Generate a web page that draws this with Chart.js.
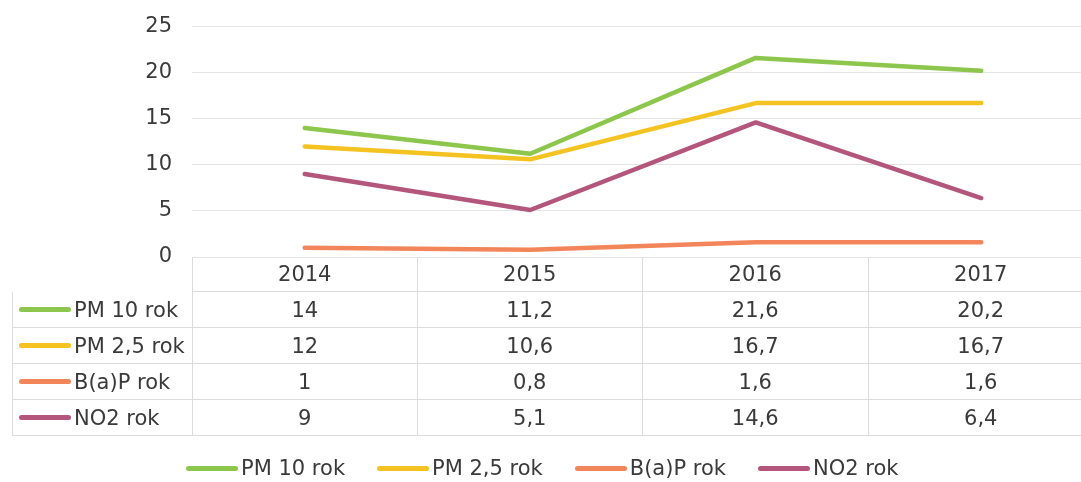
<!DOCTYPE html>
<html>
<head>
<meta charset="utf-8">
<script src="https://cdn.jsdelivr.net/npm/chart.js@4.4.0/dist/chart.umd.min.js"></script>
<style>
  html, body { margin: 0; padding: 0; background: #fff; overflow: hidden; }
  body { width: 1081px; height: 482px; position: relative; font-family: "DejaVu Sans", sans-serif; color: #3a3a3a; }
  #plot { position: absolute; left: 0; top: -6px; }
  .cell { position: absolute; box-sizing: border-box; font-size: 21px; display: flex; align-items: center; justify-content: center; border-color: #dcdcdc; border-style: solid; border-width: 0; }
  .cell.label { justify-content: flex-start; padding-left: 6px; }
  .sw { width: 52px; height: 5px; border-radius: 3px; margin-right: 3px; flex: none; }
  #legend { position: absolute; left: 186px; top: 456px; display: flex; align-items: center; font-size: 21px; white-space: nowrap; }
  #legend .item { display: flex; align-items: center; margin-right: 32px; }
</style>
</head>
<body>
<canvas id="plot" width="1100" height="488"></canvas>
<div id="table"></div>
<div id="legend"></div>
<script>
// data
const years = ["2014", "2015", "2016", "2017"];
const pm10 = [14, 11.2, 21.6, 20.2];
const pm25 = [12, 10.6, 16.7, 16.7];
const bap = [1, 0.8, 1.6, 1.6];
const no2 = [9, 5.1, 14.6, 6.4];
const seriesNames = ["PM 10 rok", "PM 2,5 rok", "B(a)P rok", "NO2 rok"];
const seriesColors = ["#8dc64c", "#f4c221", "#f2865a", "#b4557c"];
const yTicks = [0, 5, 10, 15, 20, 25];

const seriesValues = [pm10, pm25, bap, no2];

// geometry of the plot area / table (page coords)
const plotLeft = 192, plotRight = 1094, plotBottom = 257;
const canvasShift = 6; // canvas sits 6px above the page top
const labelLeft = 12;
const headerH = 35, rowH = 36;

const datasets = seriesNames.map((name, i) => ({
  label: name,
  data: seriesValues[i],
  borderColor: seriesColors[i],
  backgroundColor: seriesColors[i],
  borderWidth: 4.5,
  borderCapStyle: 'round',
  borderJoinStyle: 'round',
  pointRadius: 0,
  pointHoverRadius: 0,
  tension: 0,
  fill: false
}));

new Chart(document.getElementById('plot').getContext('2d'), {
  type: 'line',
  data: { labels: years, datasets: datasets },
  options: {
    responsive: false,
    animation: false,
    events: [],
    layout: { padding: { top: 20, bottom: 488 - canvasShift - plotBottom, left: 0, right: 1100 - plotRight } },
    plugins: { legend: { display: false }, tooltip: { enabled: false } },
    scales: {
      x: { display: false, offset: true },
      y: {
        min: 0,
        max: 25,
        afterFit: scale => { scale.width = plotLeft; },
        afterBuildTicks: scale => { scale.ticks = yTicks.map(v => ({ value: v })); },
        border: { display: false },
        grid: { color: '#e4e4e4', lineWidth: 1, drawTicks: false },
        ticks: {
          padding: 20,
          color: '#3a3a3a',
          font: { family: 'DejaVu Sans', size: 21 }
        }
      }
    }
  }
});

// data table under the plot
const table = document.getElementById('table');
const colW = (plotRight - plotLeft) / years.length;

function addCell(x, y, w, h, cls, borders) {
  const d = document.createElement('div');
  d.className = 'cell ' + cls;
  d.style.left = x + 'px';
  d.style.top = y + 'px';
  d.style.width = w + 'px';
  d.style.height = h + 'px';
  d.style.borderWidth = borders;
  table.appendChild(d);
  return d;
}

// header row with the years
years.forEach((yr, j) => {
  const c = addCell(plotLeft + j * colW, plotBottom, colW, headerH, '', j === 0 ? '0 1px 1px 1px' : '0 1px 1px 0');
  c.textContent = yr;
});

// one row per series
seriesNames.forEach((name, i) => {
  const y = plotBottom + headerH + i * rowH;
  const lab = addCell(labelLeft, y, plotLeft - labelLeft, rowH, 'label', '0 0 1px 1px');
  const sw = document.createElement('span');
  sw.className = 'sw';
  sw.style.background = seriesColors[i];
  lab.appendChild(sw);
  lab.appendChild(document.createTextNode(name));
  seriesValues[i].forEach((v, j) => {
    const c = addCell(plotLeft + j * colW, y, colW, rowH, '', j === 0 ? '0 1px 1px 1px' : '0 1px 1px 0');
    c.textContent = String(v).replace('.', ',');
  });
});

// legend at the bottom
const legend = document.getElementById('legend');
seriesNames.forEach((name, i) => {
  const item = document.createElement('div');
  item.className = 'item';
  item.innerHTML = `<span class="sw" style="background:${seriesColors[i]}"></span>${name}`;
  legend.appendChild(item);
});
</script>
</body>
</html>
